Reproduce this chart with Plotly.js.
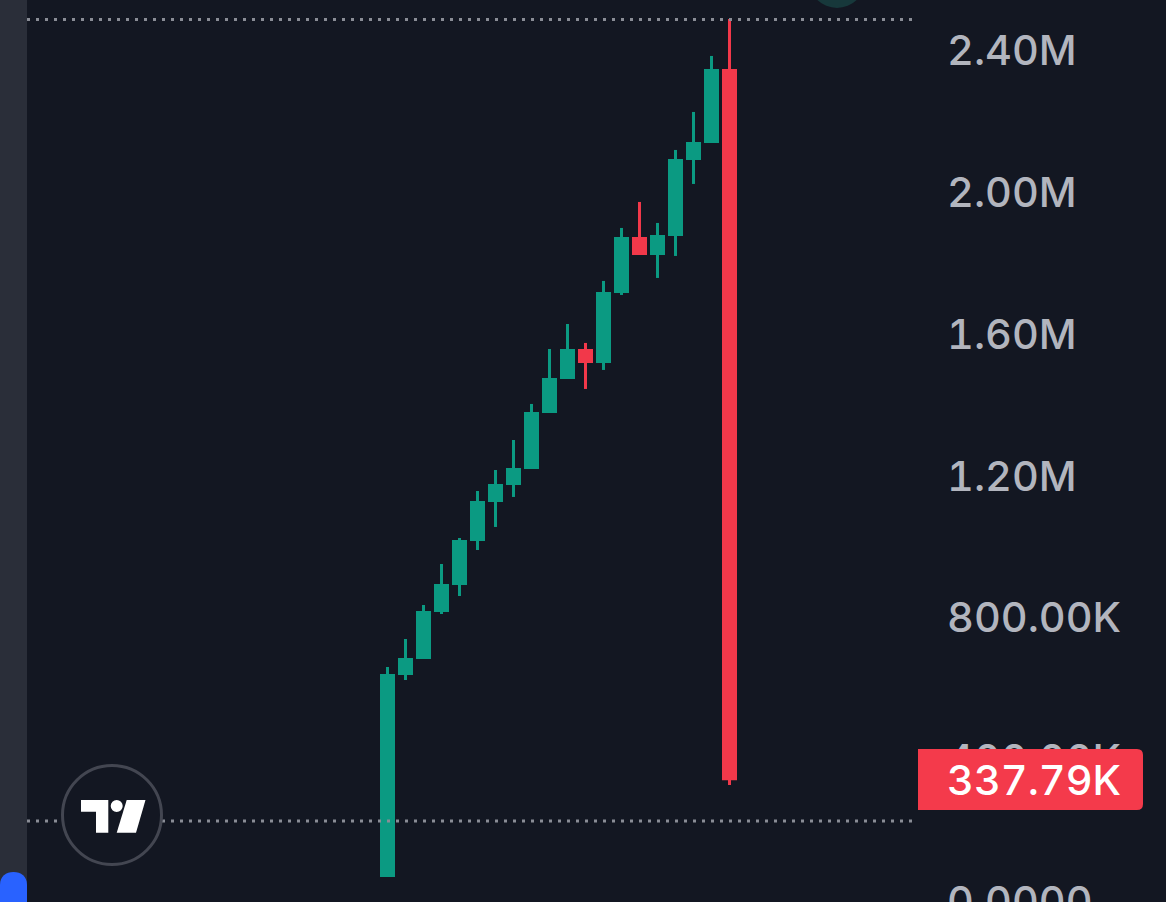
<!DOCTYPE html>
<html><head><meta charset="utf-8">
<script src="https://cdn.plot.ly/plotly-3.0.1.min.js"></script>
<style>html,body{margin:0;padding:0;background:#131722;overflow:hidden}#c{width:1166px;height:902px}
text{font-feature-settings:"tnum" 1;font-variant-numeric:tabular-nums}</style>
</head><body><div id="c"></div>
<script>
// Candle values (units: price)
const periods = [0,1,2,3,4,5,6,7,8,9,10,11,12,13,14,15,16,17,18,19];
const opens  = [64900,635300,680500,813200,889400,1013600,1123800,1171800,1216900,1375000,1471000,1555700,1516200,1713900,1872000,1821200,1874800,2089400,2137400,2346300];
const closes = [638100,683300,816000,892200,1016500,1126600,1174600,1219800,1377900,1473900,1555700,1516200,1716700,1872000,1821200,1877600,2092200,2140200,2346300,337790];
const highs  = [657900,736900,832900,948700,1022100,1154800,1214100,1298800,1400500,1555700,1626300,1572700,1747800,1897400,1970800,1911500,2117600,2224900,2383000,2487500];
const lows   = [64900,621200,680500,807500,858300,988200,1053200,1137900,1216900,1375000,1471000,1442800,1496500,1708200,1821200,1756200,1818300,2021600,2137400,324700];
const tickValues = [0,400000,800000,1200000,1600000,2000000,2400000];
const tickLabels = ["0.0000","400.00K","800.00K","1.20M","1.60M","2.00M","2.40M"];
const highLevel = 2486000;
const lowLevel = 223000;
const lastPrice = 337790;
const lastLabel = "337.79K";

const GREEN="#0b9a82", RED="#f2384a", BG="#131722";
const W=1166,H=902,L=27,R=917;
const px=x=>(x-L)/(R-L), py=y=>1-y/H;
const P=(c,x,y)=>c+px(x)+','+py(y);
const FONT='Inter, "Noto Sans", sans-serif';

function wicks(isUp){
  const xs=[],ys=[];
  periods.forEach((p,i)=>{ if((closes[i]>=opens[i])===isUp){xs.push(p,p,null);ys.push(lows[i],highs[i],null);} });
  return {type:'scatter',mode:'lines',x:xs,y:ys,line:{color:isUp?GREEN:RED,width:3},hoverinfo:'skip',showlegend:false};
}
const traces=[
  wicks(true),wicks(false),
  {type:'candlestick',x:periods,open:opens,high:highs,low:lows,close:closes,whiskerwidth:0,showlegend:false,
   increasing:{line:{color:GREEN,width:0},fillcolor:GREEN},
   decreasing:{line:{color:RED,width:0},fillcolor:RED}}
];
const level=(v)=>({type:'line',xref:'paper',yref:'y',x0:0,x1:px(912),y0:v,y1:v,line:{color:'#8a8d96',width:3,dash:'3px,6px'}});
const rect=(x0,y0,x1,y1,fill)=>({type:'rect',xref:'paper',yref:'paper',x0:px(x0),x1:px(x1),y0:py(y0),y1:py(y1),fillcolor:fill,line:{width:0}});
const path=(d,fill)=>({type:'path',xref:'paper',yref:'paper',path:d,fillcolor:fill,line:{width:0}});
const circle=(cx,cy,r,fill,lc,lw)=>({type:'circle',xref:'paper',yref:'paper',x0:px(cx-r),x1:px(cx+r),y0:py(cy+r),y1:py(cy-r),fillcolor:fill,line:lc?{color:lc,width:lw}:{width:0}});
const shapes=[
  level(highLevel),level(lowLevel),
  rect(0,0,27,902,'#2a2e39'),
  path(P('M',0,902)+P('L',0,885)+P('C',0,876)+' '+P('',6,872)+' '+P('',13.5,872)+P('C',21,872)+' '+P('',27,876)+' '+P('',27,885)+P('L',27,902)+'Z','#2962ff'),
  circle(837,-20,28,'#17383b'),
  circle(112,815,49.5,BG,'#434651',3),
  path(P('M',81,800)+P('L',108.3,800)+P('L',108.3,832.7)+P('L',96,832.7)+P('L',96,811.7)+P('L',81,811.7)+'Z','#ffffff'),
  circle(116.7,806,6,'#ffffff'),
  path(P('M',126.7,800)+P('L',145.5,800)+P('L',136,832.7)+P('L',116.7,832.7)+'Z','#ffffff'),
  path(P('M',918,749)+P('L',1137,749)+P('Q',1143,749)+' '+P('',1143,755)+P('L',1143,804)+P('Q',1143,810)+' '+P('',1137,810)+P('L',918,810)+'Z','#f43a4b')
];
const layout={
  width:W,height:H,margin:{l:L,r:W-R,t:0,b:0,pad:0},
  paper_bgcolor:BG,plot_bgcolor:BG,showlegend:false,boxgap:0.167,boxgroupgap:0,
  xaxis:{type:'linear',range:[(L-387.5)/18,(R-387.5)/18],visible:false,rangeslider:{visible:false},fixedrange:true},
  yaxis:{side:'right',range:[-5650,2541000],tickmode:'array',tickvals:tickValues,ticktext:tickLabels,
    showgrid:false,zeroline:false,showline:false,ticks:'',ticklabelstandoff:29,ticklabelshift:1,ticklabeloverflow:'allow',
    tickfont:{family:FONT,size:41.5,weight:500,color:'#b2b5be'},fixedrange:true},
  shapes:shapes,
  annotations:[{xref:'paper',yref:'y',x:px(945),y:lastPrice,xanchor:'left',yanchor:'middle',text:lastLabel,showarrow:false,
    font:{family:FONT,size:41.5,weight:500,color:'#ffffff'}}]
};
Plotly.newPlot('c',traces,layout,{displayModeBar:false,staticPlot:true});
</script></body></html>
